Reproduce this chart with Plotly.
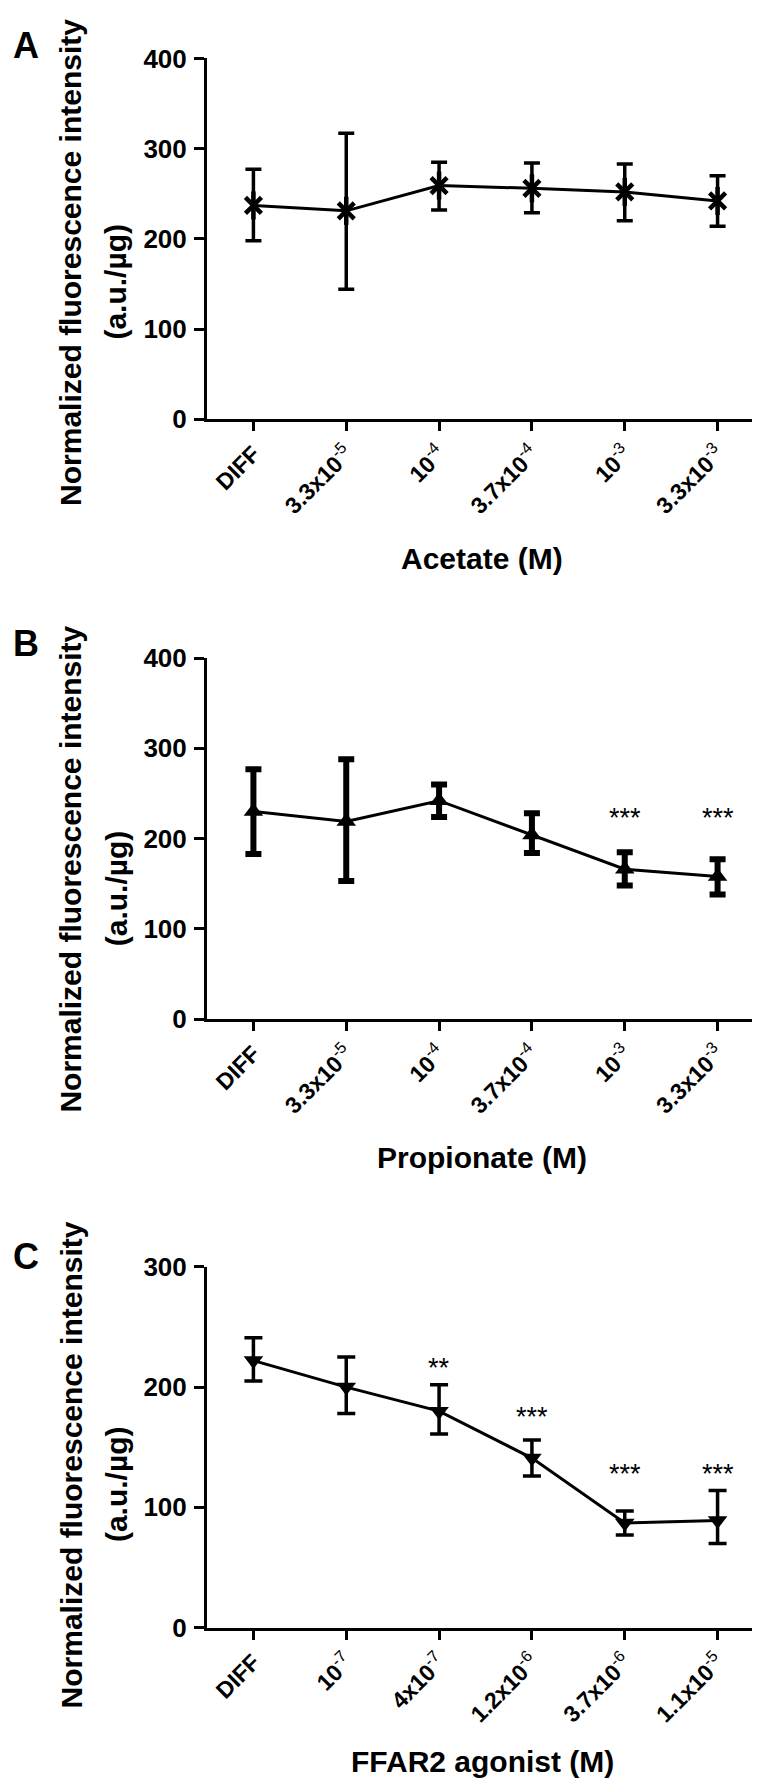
import plotly.graph_objects as go

W, H = 760, 1790
FONT = "Liberation Sans, Arial, Helvetica, sans-serif"

# ---------------- data ----------------
x_pos = [0, 1, 2, 3, 4, 5]

a_labels = ["<b>DIFF</b>", "<b>3.3x10</b><sup>-5</sup>", "<b>10</b><sup>-4</sup>",
            "<b>3.7x10</b><sup>-4</sup>", "<b>10</b><sup>-3</sup>", "<b>3.3x10</b><sup>-3</sup>"]
a_mean = [237, 231, 259, 256, 252, 242]
a_upper = [277, 317, 285, 284, 283, 270]
a_lower = [198, 144, 232, 229, 220, 214]
a_stars = ["", "", "", "", "", ""]
a_star_y = [None, None, None, None, None, None]

b_labels = a_labels
b_mean = [230, 219, 242, 204, 166, 158]
b_upper = [277, 288, 260, 228, 185, 177]
b_lower = [183, 153, 224, 184, 148, 138]
b_stars = ["", "", "", "", "***", "***"]
b_star_y = [None, None, None, None, 230, 230]

c_labels = ["<b>DIFF</b>", "<b>10</b><sup>-7</sup>", "<b>4x10</b><sup>-7</sup>",
            "<b>1.2x10</b><sup>-6</sup>", "<b>3.7x10</b><sup>-6</sup>", "<b>1.1x10</b><sup>-5</sup>"]
c_mean = [222, 200, 180, 141, 87, 89]
c_upper = [241, 225, 202, 156, 97, 114]
c_lower = [205, 178, 161, 126, 77, 70]
c_stars = ["", "", "**", "***", "***", "***"]
c_star_y = [None, None, 221, 180, 133, 133]

y_title_1 = "Normalized fluorescence intensity"
y_title_2 = "(a.u./µg)"
x_titles = ["Acetate (M)", "Propionate (M)", "FFAR2 agonist (M)"]
panel_letters = ["A", "B", "C"]
y_max = [400, 400, 300]
y_ticks = [[0, 100, 200, 300, 400], [0, 100, 200, 300, 400], [0, 100, 200, 300]]

# ---------------- layout geometry (pixels) ----------------
plot_top = [36, 646, 1265]
plot_bot = [403, 1013, 1632]
x_left, x_right = 199, 756


def py(v):
    return 1 - v / H


def px(v):
    return v / W


panels = [
    dict(labels=a_labels, mean=a_mean, up=a_upper, lo=a_lower, stars=a_stars, sy=a_star_y,
         marker="asterisk", ethick=3.5, ewidth=8),
    dict(labels=b_labels, mean=b_mean, up=b_upper, lo=b_lower, stars=b_stars, sy=b_star_y,
         marker="triangle-up", ethick=6, ewidth=8),
    dict(labels=c_labels, mean=c_mean, up=c_upper, lo=c_lower, stars=c_stars, sy=c_star_y,
         marker="triangle-down", ethick=3.5, ewidth=9),
]

fig = go.Figure()
annotations = []
layout_axes = {}

for i, p in enumerate(panels):
    n = "" if i == 0 else str(i + 1)
    xa, ya = "x" + n, "y" + n
    err_plus = [u - m for u, m in zip(p["up"], p["mean"])]
    err_minus = [m - l for m, l in zip(p["mean"], p["lo"])]

    if p["marker"] == "asterisk":
        fig.add_trace(go.Scatter(
            x=x_pos, y=p["mean"], xaxis=xa, yaxis=ya, mode="lines+markers",
            line=dict(color="black", width=3),
            marker=dict(symbol="x-thin-open", size=16, color="black",
                        line=dict(color="black", width=4.5)),
            error_y=dict(type="data", array=err_plus, arrayminus=err_minus,
                         color="black", thickness=p["ethick"], width=p["ewidth"]),
            cliponaxis=False, hoverinfo="skip"))
        fig.add_trace(go.Scatter(
            x=x_pos, y=p["mean"], xaxis=xa, yaxis=ya, mode="markers",
            marker=dict(symbol="line-ns-open", size=20, color="black",
                        line=dict(color="black", width=4.5)),
            cliponaxis=False, hoverinfo="skip"))
    else:
        fig.add_trace(go.Scatter(
            x=x_pos, y=p["mean"], xaxis=xa, yaxis=ya, mode="lines+markers",
            line=dict(color="black", width=3),
            marker=dict(symbol=p["marker"], size=17, color="black"),
            error_y=dict(type="data", array=err_plus, arrayminus=err_minus,
                         color="black", thickness=p["ethick"], width=p["ewidth"]),
            cliponaxis=False, hoverinfo="skip"))

    dom_y = [py(plot_bot[i]), py(plot_top[i])]
    layout_axes["xaxis" + n] = dict(
        domain=[px(x_left), px(x_right)], anchor=ya, range=[-0.5, 5.5],
        tickmode="array", tickvals=x_pos, ticktext=p["labels"], tickangle=-45,
        tickfont=dict(family=FONT, size=23, color="black"),
        showline=True, linewidth=3, linecolor="black", ticks="outside",
        ticklen=9, tickwidth=3, tickcolor="black", showgrid=False, zeroline=False,
        fixedrange=True)
    layout_axes["yaxis" + n] = dict(
        domain=dom_y, anchor=xa, range=[0, y_max[i]], tickmode="array",
        tickvals=y_ticks[i], ticktext=[str(t) for t in y_ticks[i]],
        tickfont=dict(family=FONT, size=26, color="black", weight="bold"),
        showline=True, linewidth=3, linecolor="black", ticks="outside",
        ticklen=10, tickwidth=3, tickcolor="black", showgrid=False, zeroline=False,
        ticklabelstandoff=2, fixedrange=True)

    # panel letter
    annotations.append(dict(text="<b>%s</b>" % panel_letters[i], xref="paper", yref="paper",
                            x=px(18), y=py([23, 631, 1255][i]), xanchor="center", yanchor="middle",
                            showarrow=False, font=dict(family=FONT, size=36, color="black")))
    # y titles
    annotations.append(dict(text="<b>%s</b>" % y_title_1, xref="paper", yref="paper",
                            x=px(63), y=py(244 + [0, 617, 1223][i]), textangle=-90,
                            xanchor="center", yanchor="middle", showarrow=False,
                            font=dict(family=FONT, size=30, color="black")))
    annotations.append(dict(text="<b>%s</b>" % y_title_2, xref="paper", yref="paper",
                            x=px(108), y=py(263 + [0, 617, 1223][i]), textangle=-90,
                            xanchor="center", yanchor="middle", showarrow=False,
                            font=dict(family=FONT, size=30, color="black")))
    # x title
    annotations.append(dict(text="<b>%s</b>" % x_titles[i], xref="paper", yref="paper",
                            x=px(474), y=py([545, 1154, 1768][i]), xanchor="center",
                            yanchor="middle", showarrow=False,
                            font=dict(family=FONT, size=30, color="black")))
    # significance stars
    for xv, s, yv in zip(x_pos, p["stars"], p["sy"]):
        if s:
            annotations.append(dict(text=s, xref=xa, yref=ya, x=xv, y=yv,
                                    xanchor="center", yanchor="middle", yshift=-6,
                                    showarrow=False,
                                    font=dict(family=FONT, size=27, color="black")))

fig.update_layout(
    width=W, height=H, margin=dict(l=0, r=0, t=0, b=0),
    paper_bgcolor="white", plot_bgcolor="white", showlegend=False,
    annotations=annotations, **layout_axes)

fig.write_html("out.html")
